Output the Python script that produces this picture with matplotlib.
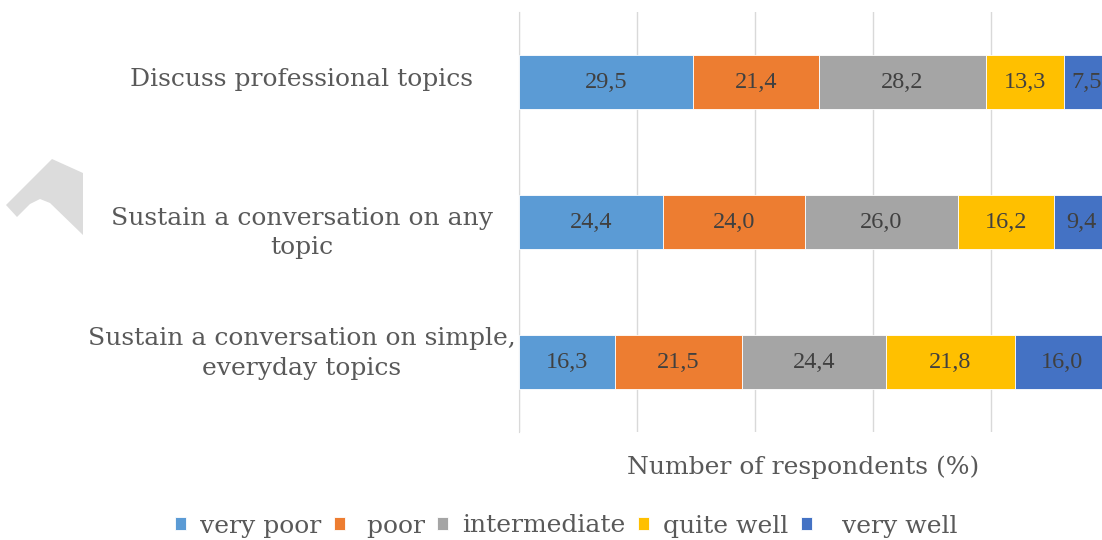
import numpy as np
import matplotlib.pyplot as plt
from matplotlib.patches import Polygon
from matplotlib.transforms import Affine2D, blended_transform_factory

# survey answers, share of respondents (%)
categories = ["Discuss professional topics",
              "Sustain a conversation on any\ntopic",
              "Sustain a conversation on simple,\neveryday topics"]
levels = ["very poor", "poor", "intermediate", "quite well", "very well"]
very_poor = [29.5, 24.4, 16.3]
poor = [21.4, 24.0, 21.5]
intermediate = [28.2, 26.0, 24.4]
quite_well = [13.3, 16.2, 21.8]
very_well = [7.5, 9.4, 16.0]

colors = ["#5B9BD5", "#ED7D31", "#A5A5A5", "#FFC000", "#4472C4"]
TEXT = "#595959"

W, H = 1102, 540
fig = plt.figure(figsize=(W / 100, H / 100), dpi=100)
ax = fig.add_axes([519 / W, 108 / H, 590 / W, 420 / H])

series = [very_poor, poor, intermediate, quite_well, very_well]
y = np.arange(len(categories))
left = np.zeros(len(categories))
handles = []
for vals, col, lab in zip(series, colors, levels):
    bars = ax.barh(y, vals, left=left, height=0.385, color=col,
                   edgecolor="white", linewidth=0.6, label=lab, zorder=3)
    handles.append(bars)
    for yi, l, v in zip(y, left, vals):
        ax.text(l + v / 2, yi, f"{v:.1f}".replace(".", ","), ha="center",
                va="center", fontsize=17.5, family="Liberation Serif",
                color="#404040", zorder=4)
    left += np.array(vals)

ax.set_xlim(0, 100)
ax.set_ylim(2.5, -0.5)
ax.set_xticks(np.arange(0, 101, 20))
ax.set_xticklabels([])
ax.tick_params(length=0)
ax.set_yticks([])
ax.grid(axis="x", color="#D9D9D9", linewidth=1, zorder=0)
for s in ["top", "right", "bottom"]:
    ax.spines[s].set_visible(False)
ax.spines["left"].set_color("#D9D9D9")

# category labels, centred to the left of the plot
trans = blended_transform_factory(fig.transFigure, ax.transData)
label_shift = [-0.02, 0.08, -0.06]
for yi, txt, d in zip(y, categories, label_shift):
    ax.text(302 / W, yi + d, txt, transform=trans,
            ha="center", va="center", multialignment="center",
            fontsize=18, family="DejaVu Serif", color=TEXT, linespacing=1.35)

fig.text(803 / W, 1 - 467 / H, "Number of respondents (%)", ha="center",
         va="center", fontsize=18, family="DejaVu Serif", color=TEXT)

leg_labels = ["very poor", " poor", "intermediate", "quite well", "  very well"]
leg = fig.legend(handles=handles, labels=leg_labels, loc="center",
                 bbox_to_anchor=(566 / W, 1 - 526 / H), ncol=5, frameon=False,
                 handlelength=0.45, handleheight=0.45, handletextpad=0.55,
                 columnspacing=0.5,
                 prop={"family": "DejaVu Serif", "size": 18})
for t in leg.get_texts():
    t.set_color(TEXT)

# grey watermark fragment on the left edge (pixel coordinates, y down)
px = Affine2D().scale(1 / W, -1 / H).translate(0, 1) + fig.transFigure
shape = Polygon([(6, 205), (52, 159), (83, 173), (83, 235), (50, 203),
                 (40, 199), (30, 204), (17, 217)], closed=True,
                facecolor="#DCDCDC", edgecolor="none", transform=px)
fig.patches.append(shape)

fig.savefig("out.png", dpi=100)
